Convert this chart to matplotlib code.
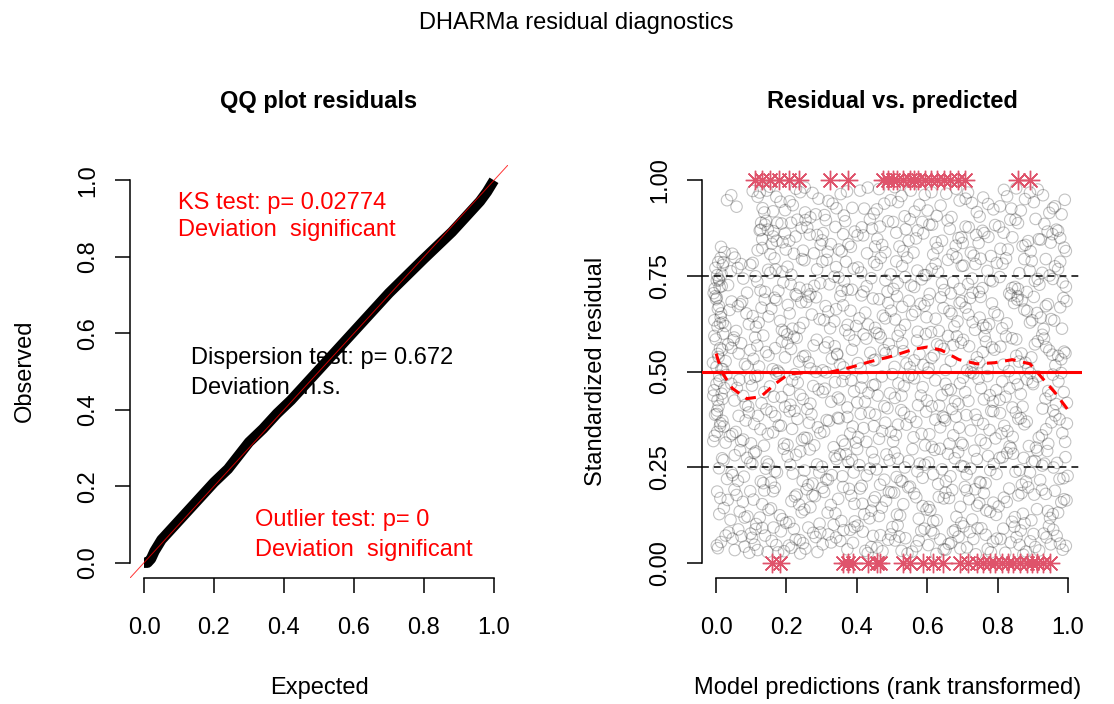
import matplotlib
matplotlib.use("Agg")
import matplotlib.pyplot as plt

plt.rcParams['font.family'] = ['Liberation Sans', 'DejaVu Sans']

# QQ plot: expected vs observed quantiles of the scaled residuals
qq_expected = [0.00, 0.01, 0.02, 0.03, 0.05, 0.08, 0.12, 0.16, 0.20, 0.24, 0.27, 0.30, 0.34,
               0.38, 0.42, 0.46, 0.50, 0.55, 0.60, 0.65, 0.70, 0.75, 0.80, 0.84, 0.88, 0.91,
               0.94, 0.96, 0.98, 0.99, 1.00]
qq_observed = [0.00, 0.00, 0.01, 0.03, 0.06, 0.09, 0.13, 0.17, 0.21, 0.245, 0.28, 0.315, 0.35,
               0.39, 0.425, 0.465, 0.505, 0.555, 0.605, 0.655, 0.705, 0.75, 0.795, 0.83, 0.865,
               0.895, 0.925, 0.945, 0.97, 0.985, 1.00]

ks_text = ["KS test: p= 0.02774", "Deviation  significant"]
disp_text = ["Dispersion test: p= 0.672", "Deviation  n.s."]
outlier_text = ["Outlier test: p= 0", "Deviation  significant"]

# residuals vs rank-transformed predictions (values in per mille)
cloud_x = [
    # 0.02 - 0.10
    14, 63, 118, 139, 207, 262, 288, 341, 417, 458, 509, 544, 618, 661, 703, 772, 809, 866, 907, 968,
    36, 81, 102, 176, 221, 247, 319, 373, 402, 489, 527, 583, 603, 689, 738, 754, 837, 881, 931, 994,
    5, 72, 131, 158, 193, 276, 303, 362, 431, 467, 501, 569, 637, 652, 721, 787, 822, 854, 946, 977,
    47, 94, 109, 184, 238, 254, 334, 389, 446, 473, 538, 592, 626, 679, 713, 766, 848, 893, 918, 958,
    27, 53, 112, 171, 226, 239, 296, 353, 393, 441, 521, 557, 611, 668, 694, 743, 798, 873, 902, 951,
    2, 98, 146, 163, 214, 283, 327, 381, 424, 496, 516, 576, 647, 673, 731, 781, 816, 862, 939, 985,
    # 0.10 - 0.20
    22, 58, 124, 167, 214, 243, 307, 356, 393, 452, 514, 551, 609, 647, 728, 761, 803, 872, 926, 981,
    3, 89, 106, 149, 199, 281, 326, 378, 421, 483, 498, 576, 633, 694, 707, 779, 841, 859, 912, 963,
    41, 76, 137, 181, 229, 268, 294, 347, 409, 441, 532, 563, 617, 671, 742, 796, 818, 887, 949, 996,
    12, 67, 114, 162, 236, 257, 339, 384, 436, 471, 546, 598, 652, 683, 719, 748, 833, 896, 937, 972,
    33, 81, 97, 156, 208, 274, 317, 361, 416, 463, 506, 587, 627, 662, 736, 768, 826, 877, 904, 957,
    9, 52, 131, 188, 224, 251, 302, 394, 447, 491, 523, 569, 604, 697, 712, 788, 849, 868, 943, 989,
    # 0.20 - 0.30
    8, 53, 127, 144, 218, 266, 313, 342, 407, 466, 507, 572, 604, 666, 734, 752, 814, 863, 933, 987,
    31, 97, 113, 173, 203, 274, 301, 369, 428, 449, 524, 558, 642, 678, 712, 789, 827, 881, 906, 959,
    17, 79, 141, 192, 246, 287, 352, 391, 414, 493, 536, 587, 621, 697, 749, 773, 851, 898, 941, 999,
    44, 68, 103, 156, 227, 251, 329, 376, 443, 478, 517, 593, 631, 659, 723, 797, 838, 874, 921, 969,
    21, 62, 108, 167, 211, 262, 337, 359, 401, 456, 529, 547, 617, 688, 704, 766, 806, 892, 913, 976,
    47, 88, 134, 149, 239, 293, 318, 386, 437, 484, 513, 579, 636, 653, 741, 779, 844, 869, 927, 993,
    # 0.30 - 0.40
    11, 71, 119, 162, 209, 258, 321, 366, 419, 452, 511, 569, 613, 648, 724, 766, 807, 876, 917, 976,
    39, 84, 136, 178, 244, 271, 307, 349, 397, 481, 526, 584, 637, 682, 701, 759, 843, 852, 938, 992,
    2, 56, 108, 193, 231, 289, 334, 381, 436, 463, 541, 552, 606, 697, 743, 782, 828, 889, 953, 964,
    27, 93, 147, 168, 216, 279, 346, 388, 404, 497, 503, 597, 651, 674, 737, 794, 819, 866, 909, 984,
    18, 77, 126, 157, 203, 264, 296, 373, 427, 448, 534, 561, 623, 663, 711, 777, 834, 883, 926, 958,
    46, 64, 99, 184, 223, 251, 314, 359, 411, 472, 517, 594, 644, 691, 752, 788, 811, 859, 944, 997,
    # 0.40 - 0.50
    16, 66, 129, 153, 224, 247, 309, 373, 416, 459, 518, 574, 602, 658, 717, 771, 823, 857, 928, 973,
    43, 91, 111, 186, 207, 284, 327, 359, 433, 487, 534, 556, 641, 689, 746, 753, 806, 893, 944, 997,
    4, 59, 143, 171, 239, 268, 338, 392, 401, 471, 508, 587, 623, 671, 708, 787, 849, 871, 901, 957,
    29, 77, 102, 196, 216, 291, 313, 351, 446, 494, 547, 599, 634, 693, 731, 778, 834, 884, 936, 988,
    23, 84, 118, 164, 232, 259, 303, 366, 423, 452, 527, 563, 613, 667, 724, 761, 813, 866, 914, 966,
    52, 96, 137, 179, 211, 276, 346, 384, 412, 478, 501, 582, 652, 679, 702, 796, 842, 899, 951, 981,
    # 0.50 - 0.60
    7, 49, 122, 168, 202, 263, 318, 344, 411, 468, 502, 563, 628, 652, 719, 763, 817, 868, 914, 981,
    34, 82, 134, 149, 236, 277, 303, 386, 427, 452, 529, 578, 604, 684, 741, 784, 832, 853, 947, 964,
    19, 97, 106, 187, 221, 253, 337, 362, 438, 491, 541, 596, 647, 667, 702, 772, 808, 896, 927, 993,
    51, 64, 117, 174, 213, 286, 329, 378, 403, 477, 516, 551, 619, 696, 729, 758, 841, 879, 938, 972,
    27, 71, 142, 161, 229, 247, 309, 352, 419, 482, 507, 571, 612, 674, 713, 791, 824, 861, 906, 956,
    43, 89, 111, 196, 203, 268, 344, 393, 447, 463, 532, 589, 638, 659, 748, 767, 853, 887, 932, 989,
    # 0.60 - 0.70
    13, 74, 113, 157, 229, 248, 311, 367, 424, 463, 509, 581, 611, 663, 722, 776, 801, 869, 931, 978,
    38, 57, 138, 182, 204, 272, 324, 353, 407, 489, 537, 566, 639, 677, 709, 749, 838, 892, 912, 996,
    2, 86, 121, 194, 242, 294, 341, 398, 446, 474, 523, 592, 624, 698, 736, 791, 826, 857, 943, 961,
    26, 69, 149, 171, 217, 263, 307, 382, 432, 456, 548, 557, 646, 686, 752, 767, 847, 884, 923, 987,
    19, 62, 104, 166, 237, 256, 319, 374, 413, 481, 529, 573, 602, 669, 729, 784, 813, 876, 903, 952,
    44, 93, 129, 187, 209, 284, 336, 361, 452, 497, 514, 598, 633, 692, 717, 759, 856, 898, 937, 983,
    # 0.70 - 0.80
    9, 61, 126, 166, 214, 279, 302, 348, 419, 457, 516, 572, 607, 659, 728, 757, 814, 862, 919, 972,
    42, 88, 104, 191, 237, 251, 336, 374, 403, 481, 543, 554, 631, 692, 703, 786, 833, 897, 948, 994,
    21, 77, 148, 177, 203, 268, 322, 391, 441, 468, 504, 596, 624, 674, 747, 771, 849, 876, 906, 963,
    -4, 53, 117, 154, 226, 287, 357, 369, 428, 496, 529, 584, 648, 683, 716, 798, 806, 883, 937, 985,
    3, 34, 97, 139, 188, 244, 296, 341, 386, 449, 537, 563, 613, 667, 737, 779, 824, 858, 927, 957,
    16, 71, 112, 169, 212, 259, 314, 364, 412, 487, 512, 591, 642, 698, 729, 752, 841, 891, 914, 978,
    # 0.80 - 0.90
    24, 139, 131, 163, 208, 254, 317, 361, 414, 472, 503, 568, 617, 664, 701, 762, 829, 858, 923, 967,
    162, 118, 142, 189, 243, 278, 304, 383, 437, 458, 532, 573, 606, 681, 739, 781, 804, 887, 942, 989,
    46, 124, 154, 174, 226, 297, 339, 357, 402, 489, 521, 589, 642, 658, 724, 793, 842, 871, 908, 951,
    186, 131, 127, 198, 231, 266, 326, 394, 429, 466, 547, 551, 629, 697, 718, 746, 817, 894, 933, 978,
    14, 147, 172, 213, 247, 287, 312, 376, 443, 481, 512, 586, 624, 672, 709, 774, 808, 851, 917, 972,
    128, 158, 196, 221, 259, 301, 349, 367, 418, 452, 539, 561, 614, 689, 732, 757, 836, 879, 956, 994,
    # 0.90 - 0.99
    31, 104, 137, 171, 218, 252, 308, 354, 421, 463, 517, 564, 612, 669, 709, 773, 818, 866, 929, 963,
    58, 118, 153, 196, 239, 283, 319, 387, 409, 478, 536, 593, 638, 682, 741, 759, 839, 892, 903, 982,
    124, 162, 183, 227, 268, 291, 342, 372, 448, 496, 508, 578, 627, 654, 727, 788, 827, 853, 947, 991,
    43, 132, 144, 209, 253, 274, 331, 363, 431, 457, 527, 553, 601, 692, 716, 749, 807, 878, 914, 957,
    # lowest predictions
    -8, 3, 12, -3, 7, 18, -6, 1, 9, 15, -9, 5, 11, -1, 20, 4, -5, 14, 8, 0,
    -7, 10, 2, 16, -2, 6, 13, -4, 22, 3, -8, 9, 1, 17, -5, 11, 5, -2, 7, 19,
]
cloud_y = [
    54, 87, 33, 71, 45, 92, 28, 66, 81, 39, 58, 24, 77, 49, 95, 36, 62, 84, 41, 70,
    79, 42, 65, 27, 88, 51, 74, 35, 97, 60, 31, 83, 46, 68, 22, 90, 53, 29, 76, 44,
    38, 69, 91, 57, 30, 78, 48, 85, 25, 72, 93, 43, 61, 34, 80, 55, 26, 67, 96, 50,
    63, 26, 47, 82, 59, 37, 99, 52, 70, 30, 64, 89, 23, 85, 40, 73, 94, 56, 32, 86,
    71, 33, 88, 46, 61, 24, 79, 57, 93, 41, 68, 29, 84, 52, 37, 90, 63, 21, 75, 48,
    45, 76, 28, 92, 39, 67, 53, 86, 31, 74, 98, 58, 35, 81, 62, 27, 89, 47, 66, 34,
    143, 177, 118, 196, 161, 132, 185, 109, 154, 171, 126, 199, 137, 168, 113, 182, 147, 128, 191, 158,
    186, 121, 165, 138, 104, 174, 151, 193, 127, 162, 184, 115, 172, 146, 198, 133, 107, 176, 140, 188,
    112, 159, 189, 124, 178, 145, 102, 167, 194, 136, 153, 181, 108, 190, 149, 125, 170, 197, 117, 163,
    169, 134, 101, 187, 152, 192, 129, 175, 116, 144, 197, 139, 183, 120, 166, 156, 194, 111, 180, 131,
    164, 118, 187, 142, 106, 176, 131, 198, 154, 122, 183, 148, 111, 169, 192, 137, 159, 103, 178, 127,
    127, 191, 153, 114, 173, 139, 196, 108, 161, 185, 123, 171, 146, 104, 189, 157, 119, 182, 135, 166,
    247, 281, 213, 264, 233, 296, 218, 271, 255, 204, 288, 239, 262, 226, 293, 209, 276, 242, 259, 221,
    219, 262, 291, 236, 278, 207, 251, 284, 228, 269, 215, 297, 244, 273, 231, 258, 287, 212, 266, 249,
    273, 225, 246, 298, 214, 257, 283, 236, 201, 268, 249, 222, 295, 253, 211, 279, 238, 264, 292, 227,
    236, 294, 258, 210, 282, 241, 229, 263, 289, 217, 272, 256, 206, 285, 246, 232, 299, 274, 216, 261,
    268, 214, 287, 239, 256, 203, 279, 226, 297, 244, 212, 266, 231, 289, 251, 208, 274, 236, 293, 219,
    229, 274, 208, 257, 291, 236, 217, 269, 246, 283, 224, 259, 298, 213, 271, 242, 285, 204, 254, 276,
    357, 318, 384, 341, 396, 326, 371, 309, 352, 387, 334, 368, 303, 379, 346, 312, 391, 362, 327, 375,
    331, 372, 306, 359, 321, 388, 343, 377, 314, 366, 399, 337, 354, 382, 308, 363, 329, 393, 349, 316,
    389, 342, 363, 311, 376, 354, 302, 338, 392, 324, 361, 381, 336, 313, 373, 397, 344, 305, 367, 385,
    314, 393, 337, 383, 350, 307, 379, 356, 328, 342, 317, 395, 372, 333, 387, 325, 358, 378, 301, 339,
    371, 322, 349, 394, 308, 366, 339, 381, 316, 357, 392, 328, 374, 311, 386, 347, 304, 369, 333, 398,
    336, 384, 312, 358, 397, 327, 373, 319, 389, 344, 361, 307, 382, 353, 321, 396, 338, 376, 311, 364,
    442, 478, 417, 461, 493, 428, 455, 406, 484, 437, 469, 412, 497, 451, 423, 488, 434, 466, 403, 474,
    468, 409, 486, 433, 452, 499, 421, 475, 444, 404, 462, 491, 438, 415, 481, 457, 426, 496, 449, 418,
    425, 457, 401, 494, 439, 416, 472, 448, 419, 487, 431, 459, 477, 402, 446, 421, 483, 408, 467, 492,
    491, 436, 463, 408, 476, 453, 498, 427, 464, 443, 485, 424, 411, 469, 495, 438, 456, 479, 429, 446,
    457, 413, 489, 434, 471, 402, 446, 494, 421, 466, 437, 482, 409, 453, 498, 427, 474, 441, 487, 415,
    424, 481, 446, 497, 413, 462, 432, 477, 458, 409, 493, 437, 468, 422, 484, 451, 406, 472, 439, 496,
    538, 582, 513, 561, 597, 524, 576, 544, 508, 589, 553, 529, 571, 504, 566, 593, 518, 547, 579, 532,
    571, 519, 594, 542, 526, 568, 503, 557, 586, 531, 574, 546, 509, 592, 537, 563, 501, 584, 555, 516,
    506, 556, 533, 578, 591, 541, 566, 511, 549, 572, 521, 598, 559, 528, 583, 507, 565, 537, 596, 548,
    589, 547, 568, 502, 559, 583, 534, 596, 522, 556, 593, 511, 542, 575, 517, 551, 587, 523, 564, 541,
    527, 574, 551, 506, 588, 539, 563, 519, 597, 548, 512, 581, 535, 569, 503, 557, 592, 526, 571, 544,
    562, 513, 589, 537, 574, 508, 546, 581, 529, 598, 553, 517, 567, 593, 524, 578, 541, 509, 586, 552,
    642, 683, 617, 664, 698, 627, 671, 608, 654, 689, 636, 677, 603, 658, 692, 624, 647, 686, 611, 668,
    661, 606, 688, 632, 674, 649, 613, 697, 639, 679, 622, 657, 694, 618, 667, 641, 699, 628, 653, 684,
    693, 652, 628, 604, 681, 637, 663, 619, 691, 646, 607, 672, 638, 684, 609, 655, 626, 697, 676, 633,
    619, 676, 644, 687, 612, 696, 634, 659, 623, 601, 685, 648, 666, 631, 695, 614, 679, 658, 641, 692,
    628, 671, 645, 693, 614, 682, 657, 622, 699, 639, 669, 604, 686, 651, 629, 678, 613, 662, 695, 637,
    683, 624, 667, 609, 652, 694, 631, 673, 614, 659, 697, 642, 606, 679, 649, 621, 688, 634, 671, 612,
    738, 771, 712, 796, 753, 724, 787, 746, 709, 779, 731, 764, 703, 792, 743, 718, 782, 757, 727, 768,
    762, 706, 784, 733, 719, 791, 748, 714, 772, 739, 798, 725, 761, 716, 777, 736, 704, 789, 751, 722,
    786, 743, 766, 711, 774, 702, 728, 769, 744, 797, 716, 752, 782, 734, 708, 763, 721, 794, 737, 775,
    717, 798, 735, 758, 702, 767, 711, 787, 723, 754, 776, 741, 713, 798, 729, 784, 747, 708, 794, 733,
    752, 726, 779, 708, 761, 794, 731, 773, 714, 786, 747, 721, 768, 704, 781, 739, 796, 716, 758, 742,
    723, 781, 749, 767, 728, 714, 792, 736, 759, 709, 788, 752, 731, 776, 706, 795, 718, 764, 742, 787,
    812, 884, 823, 867, 842, 896, 813, 859, 877, 831, 891, 848, 806, 873, 836, 862, 819, 888, 845, 871,
    853, 817, 894, 838, 876, 809, 862, 826, 898, 847, 815, 869, 884, 829, 857, 802, 879, 841, 866, 824,
    808, 869, 807, 889, 853, 832, 878, 814, 856, 893, 827, 861, 842, 895, 811, 883, 851, 828, 899, 837,
    887, 846, 871, 819, 897, 858, 833, 866, 809, 879, 842, 898, 823, 851, 877, 836, 863, 814, 886, 849,
    826, 871, 842, 889, 816, 857, 896, 833, 874, 812, 863, 891, 838, 807, 879, 852, 821, 897, 846, 868,
    889, 834, 861, 808, 877, 843, 819, 893, 856, 827, 872, 811, 884, 849, 803, 868, 897, 831, 859, 815,
    948, 972, 916, 957, 935, 981, 909, 964, 926, 977, 943, 918, 969, 904, 952, 938, 975, 921, 961, 932,
    931, 957, 983, 922, 969, 911, 946, 928, 973, 939, 906, 962, 934, 978, 917, 955, 926, 968, 943, 911,
    968, 919, 944, 978, 903, 952, 927, 971, 913, 948, 982, 936, 907, 965, 941, 924, 958, 979, 915, 949,
    961, 927, 973, 945, 916, 967, 939, 908, 981, 924, 959, 973, 921, 947, 968, 905, 932, 951, 976, 927,
    318, 342, 365, 387, 409, 428, 451, 468, 489, 507, 523, 546, 561, 584, 599, 617, 634, 652, 671, 689,
    705, 721, 738, 754, 771, 786, 797, 332, 356, 398, 437, 476, 512, 557, 593, 626, 664, 697, 742, 778,
]

# simulation outliers (residual exactly 1 or 0)
outliers_high_x = [0.111, 0.131, 0.153, 0.179, 0.207, 0.236, 0.324, 0.375, 0.474, 0.489, 0.503,
                   0.514, 0.531, 0.551, 0.563, 0.574, 0.594, 0.611, 0.628, 0.648, 0.665, 0.688,
                   0.707, 0.858, 0.892]
outliers_low_x = [0.159, 0.182, 0.361, 0.375, 0.389, 0.432, 0.457, 0.466, 0.531, 0.551, 0.588,
                  0.616, 0.645, 0.693, 0.716, 0.741, 0.759, 0.778, 0.793, 0.813, 0.830, 0.844,
                  0.864, 0.884, 0.898, 0.912, 0.929, 0.949]

# quantile regression smooth of the residuals
smooth_x = [0.00, 0.016, 0.046, 0.087, 0.127, 0.167, 0.207, 0.258, 0.318, 0.379, 0.439, 0.50,
            0.56, 0.60, 0.64, 0.69, 0.741, 0.792, 0.842, 0.892, 0.922, 0.963, 0.998]
smooth_y = [0.547, 0.499, 0.456, 0.429, 0.434, 0.467, 0.494, 0.497, 0.497, 0.510, 0.526, 0.540,
            0.558, 0.564, 0.556, 0.531, 0.520, 0.523, 0.531, 0.520, 0.488, 0.445, 0.402]

FS = 17
PINK = '#DF536B'


def r_style(ax, yticks, ylabels):
    ax.set_xlim(-0.04, 1.04)
    ax.set_ylim(-0.04, 1.04)
    ax.spines['top'].set_visible(False)
    ax.spines['right'].set_visible(False)
    ax.spines['left'].set_bounds(0, 1)
    ax.spines['bottom'].set_bounds(0, 1)
    for s in ('left', 'bottom'):
        ax.spines[s].set_linewidth(1.1)
    xt = [0, 0.2, 0.4, 0.6, 0.8, 1.0]
    ax.set_xticks(xt)
    ax.set_xticklabels(['%.1f' % v for v in xt])
    ax.set_yticks(yticks)
    ax.set_yticklabels(ylabels)
    ax.tick_params(direction='out', length=10.8, width=1.1, labelsize=FS)
    ax.tick_params(axis='x', pad=17)
    ax.tick_params(axis='y', pad=11.5)
    for lab in ax.get_yticklabels():
        lab.set_rotation(90)
        lab.set_va('center')
    ax.patch.set_visible(False)


fig = plt.figure(figsize=(11.14, 7.04), dpi=100)
fig.text(0.517, 0.967, "DHARMa residual diagnostics", ha='center', va='center', fontsize=FS)

# left panel: QQ plot
ax1 = fig.add_axes([0.1167, 0.1790, 0.3393, 0.5866])
yt = [0, 0.2, 0.4, 0.6, 0.8, 1.0]
r_style(ax1, yt, ['%.1f' % v for v in yt])
ax1.text(0.097, 0.940, ks_text[0], color='red', fontsize=FS, va='center', zorder=1)
ax1.text(0.097, 0.869, ks_text[1], color='red', fontsize=FS, va='center', zorder=1)
ax1.text(0.134, 0.535, disp_text[0], color='black', fontsize=FS, va='center', zorder=1)
ax1.text(0.134, 0.457, disp_text[1], color='black', fontsize=FS, va='center', zorder=1)
ax1.text(0.317, 0.112, outlier_text[0], color='red', fontsize=FS, va='center', zorder=1)
ax1.text(0.317, 0.034, outlier_text[1], color='red', fontsize=FS, va='center', zorder=1)
ax1.plot(qq_expected, qq_observed, color='black', lw=7.5, solid_capstyle='butt', zorder=2)
ax1.axline((0, 0), (1, 1), color='red', lw=0.7, alpha=0.8, zorder=3)
ax1.set_title("QQ plot residuals", fontsize=FS, fontweight='bold', pad=41)
fig.text(0.2864, 0.0227, "Expected", ha='center', va='center', fontsize=FS)
fig.text(0.0224, 0.4730, "Observed", ha='center', va='center', rotation=90, fontsize=FS)

# right panel: residuals vs predicted
ax2 = fig.add_axes([0.6302, 0.1790, 0.3411, 0.5866])
yt2 = [0, 0.25, 0.5, 0.75, 1.0]
r_style(ax2, yt2, ['%.2f' % v for v in yt2])
ax2.scatter([v / 1000 for v in cloud_x], [v / 1000 for v in cloud_y], s=68,
            facecolors='none', edgecolors=(0, 0, 0, 0.24), linewidths=0.8, zorder=1)
ax2.plot(outliers_high_x, [1.0] * len(outliers_high_x), ls='none', marker=(8, 2, 0),
         ms=14, mew=1.0, color=PINK, zorder=2)
ax2.plot(outliers_low_x, [0.0] * len(outliers_low_x), ls='none', marker=(8, 2, 0),
         ms=14, mew=1.0, color=PINK, zorder=2)
for q in (0.25, 0.75):
    ax2.axhline(q, color='black', lw=1.1, dashes=(4.5, 3.3), zorder=3)
ax2.axhline(0.5, color='red', lw=2.2, zorder=3)
ax2.plot(smooth_x, smooth_y, color='red', lw=2.2, dashes=(3.5, 2.5), zorder=4)
ax2.set_title("Residual vs. predicted", fontsize=FS, fontweight='bold', pad=41)
fig.text(0.7971, 0.0227, "Model predictions (rank transformed)", ha='center', va='center',
         fontsize=FS)
fig.text(0.5350, 0.4730, "Standardized residual", ha='center', va='center', rotation=90,
         fontsize=FS)

fig.savefig("out.png", dpi=100)
